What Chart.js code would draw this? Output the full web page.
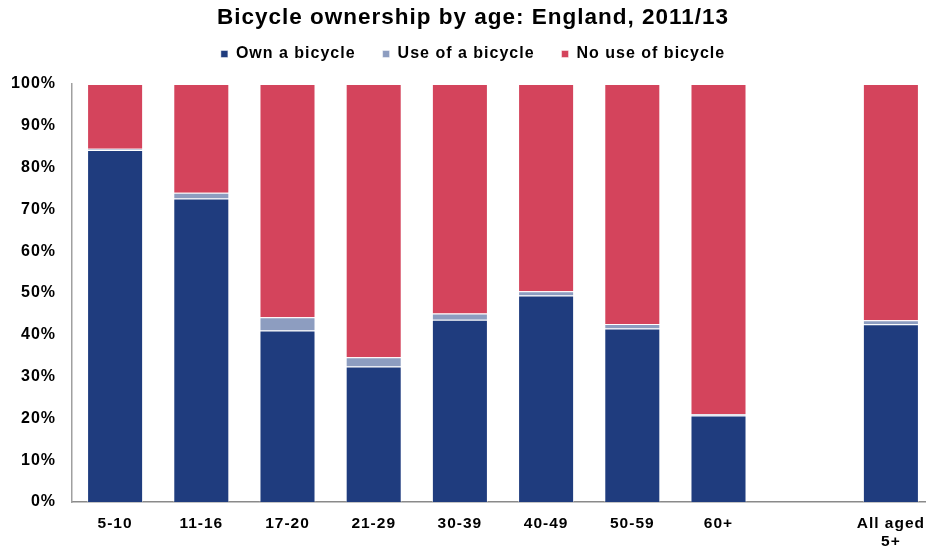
<!DOCTYPE html>
<html>
<head>
<meta charset="utf-8">
<title>Bicycle ownership by age</title>
<script src="https://cdn.jsdelivr.net/npm/chart.js@4"></script>
<style>
  html, body { margin: 0; padding: 0; background: #fff; overflow: hidden; }
  #wrap { width: 940px; height: 551px; position: relative; }
</style>
</head>
<body>
<div id="wrap"><canvas id="chart"></canvas></div>
<script>
const ageGroups = ["5-10", "11-16", "17-20", "21-29", "30-39", "40-49", "50-59", "60+", "", ["All aged", "5+"]];

// percentages per age group (blank slot keeps the gap before the total)
const ownBicycle = [84.2, 72.6, 41.0, 32.4, 43.6, 49.4, 41.5, 20.7, null, 42.5];
const useBicycle = [0.3, 1.4, 3.2, 2.2, 1.5, 1.0, 1.1, 0.3, null, 1.0];
const noUse = ownBicycle.map((v, i) => v === null ? null : +(100 - v - useBicycle[i]).toFixed(1));

const yTicks = [0, 10, 20, 30, 40, 50, 60, 70, 80, 90, 100];

const font = "'Liberation Sans', Arial, sans-serif";
const edge = "rgba(255,255,255,0.45)";

// slightly spaced lettering everywhere on the canvas
const spacing = {
  id: "spacing",
  beforeUpdate(chart) { chart.ctx.letterSpacing = "1px"; },
  beforeDraw(chart) { chart.ctx.letterSpacing = "1px"; },
};

// extra room between the legend row and the plot
const legendGap = {
  id: "legendGap",
  beforeInit(chart) {
    const originalFit = chart.legend.fit;
    chart.legend.fit = function fit() {
      originalFit.bind(chart.legend)();
      this.height += 12;
    };
  },
};

const chart = document.querySelector("#chart").getContext("2d");

new Chart(chart, {
  type: "bar",
  data: {
    labels: ageGroups,
    datasets: [
      {
        label: "Own a bicycle",
        data: ownBicycle,
        backgroundColor: "#1F3C7E",
        borderColor: edge,
        borderWidth: 1,
      },
      {
        label: "Use of a bicycle",
        data: useBicycle,
        backgroundColor: "#8D9DC0",
        borderColor: edge,
        borderWidth: 1,
      },
      {
        label: "No use of bicycle",
        data: noUse,
        backgroundColor: "#D4445C",
        borderColor: edge,
        borderWidth: 1,
      },
    ],
  },
  plugins: [spacing, legendGap],
  options: {
    responsive: true,
    maintainAspectRatio: false,
    animation: false,
    categoryPercentage: 1,
    barPercentage: 0.65,
    layout: { padding: { left: 12, right: 6, top: 0, bottom: 0 } },
    plugins: {
      title: {
        display: true,
        text: "Bicycle ownership by age: England, 2011/13",
        color: "#000",
        font: { family: font, size: 22.5, weight: "bold", lineHeight: 1.2 },
        padding: { top: 4, bottom: -12 },
      },
      legend: {
        display: true,
        labels: {
          color: "#000",
          font: { family: font, size: 16, weight: "bold" },
          boxWidth: 7,
          boxHeight: 7,
          padding: 27,
        },
      },
      tooltip: { enabled: false },
    },
    scales: {
      x: {
        stacked: true,
        grid: { display: false, drawTicks: false },
        border: { display: true, color: "#8a8a8a", width: 1.5 },
        ticks: {
          color: "#000",
          font: { family: font, size: 15.5, weight: "bold", lineHeight: 1.15 },
          padding: 13,
          maxRotation: 0,
          autoSkip: false,
        },
        afterFit: (scale) => { scale.height = 49; },
      },
      y: {
        stacked: true,
        min: 0,
        max: 100,
        grid: { display: false, drawTicks: false },
        border: { display: true, color: "#a0a0a0", width: 1.5 },
        afterBuildTicks: (scale) => { scale.ticks = yTicks.map((v) => ({ value: v })); },
        ticks: {
          color: "#000",
          font: { family: font, size: 16, weight: "bold" },
          padding: 16,
          callback: (v) => v + "%",
        },
        afterFit: (scale) => { scale.width = 60; },
      },
    },
  },
});
</script>
</body>
</html>
